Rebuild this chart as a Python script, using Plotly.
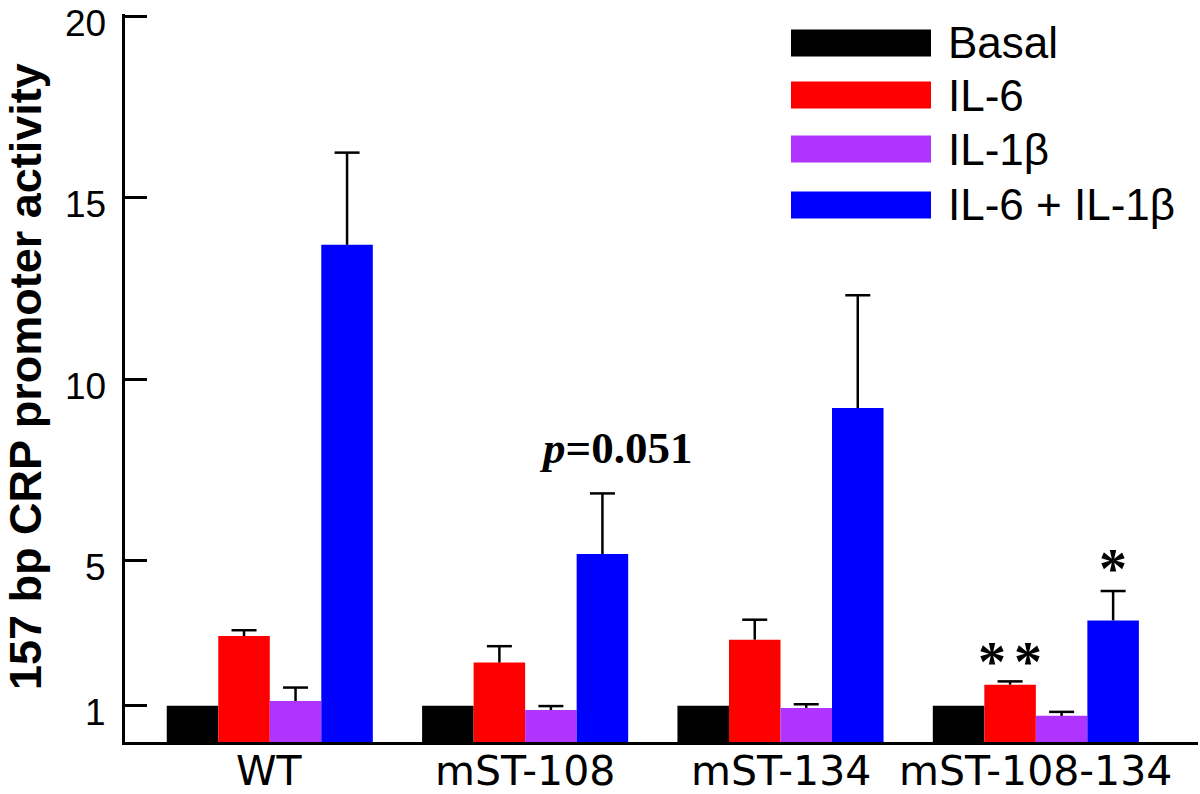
import plotly.graph_objects as go

categories = ["WT", "mST-108", "mST-134", "mST-108-134"]
series_names = ["Basal", "IL-6", "IL-1β", "IL-6 + IL-1β"]
series_colors = ["#000000", "#FF0000", "#B034FF", "#0000FF"]

basal = [1.0, 1.0, 1.0, 1.0]
il6 = [2.92, 2.19, 2.82, 1.58]
il6_err = [0.16, 0.45, 0.55, 0.09]
il1b = [1.13, 0.88, 0.94, 0.72]
il1b_err = [0.37, 0.11, 0.10, 0.11]
combo = [13.70, 5.18, 9.20, 3.35]
combo_err = [2.54, 1.67, 3.11, 0.81]

y_ticks = [1, 5, 10, 15, 20]

values = [basal, il6, il1b, combo]
errors = [None, il6_err, il1b_err, combo_err]

W, H = 1200, 794
L, R, T, B = 125, 2, 14, 52
PW, PH = W - L - R, H - T - B
BARGAP = 0.193
XR = [-0.567, 3.635]


def px(xp):
    return (xp - L) / PW


def py(yp):
    return (H - B - yp) / PH


xpos = list(range(len(categories)))
bw = (1 - BARGAP) / len(values)
cap_half = 12.5 * (XR[1] - XR[0]) / PW

fig = go.Figure()
for k, (name, col, vals) in enumerate(zip(series_names, series_colors, values)):
    fig.add_trace(go.Bar(x=xpos, y=vals, name=name, marker_color=col,
                         marker_line_width=0, showlegend=False))

for k, (vals, err) in enumerate(zip(values, errors)):
    if err is None:
        continue
    xs, ys = [], []
    for i, (v, e) in enumerate(zip(vals, err)):
        xc = i + (k - 1.5) * bw
        xs += [xc, xc, None, xc - cap_half, xc + cap_half, None]
        ys += [v, v + e, None, v + e, v + e, None]
    fig.add_trace(go.Scatter(x=xs, y=ys, mode="lines", showlegend=False,
                             line=dict(color="black", width=2.5), hoverinfo="skip"))

annotations = []
# y tick labels
for t in y_ticks:
    annotations.append(dict(x=px(108), y=t, xref="paper", yref="y", text=str(t),
                            showarrow=False, xanchor="right", yanchor="middle", yshift=-7,
                            font=dict(family="Liberation Sans", size=37, color="black")))
# category labels
for i, c in enumerate(categories):
    annotations.append(dict(x=i, y=py(771), xref="x", yref="paper", text=c,
                            showarrow=False, xanchor="center", yanchor="middle",
                            font=dict(family="DejaVu Sans", size=41, color="black")))
# p value
annotations.append(dict(x=1 + 1.5 * bw, y=combo[1] + combo_err[1] + 0.50, xref="x", yref="y",
                        text="<b><i>p</i>=0.051</b>", showarrow=False, yanchor="bottom", xshift=13,
                        font=dict(family="Liberation Serif", size=45, color="black")))
for dx in (-18, 18):
    annotations.append(dict(x=3 - 0.5 * bw, y=il6[3] + il6_err[3] - 0.37, xref="x", yref="y",
                            text="<b>*</b>", showarrow=False, yanchor="bottom", xshift=dx,
                            font=dict(family="Liberation Serif", size=56, color="black")))
annotations.append(dict(x=3 + 1.5 * bw, y=combo[3] + combo_err[3] - 0.30, xref="x", yref="y",
                        text="<b>*</b>", showarrow=False, yanchor="bottom",
                        font=dict(family="Liberation Serif", size=56, color="black")))
# y title
annotations.append(dict(x=px(25), y=py(377), xref="paper", yref="paper",
                        text="<b>157 bp CRP promoter activity</b>", textangle=-90,
                        showarrow=False, xanchor="center", yanchor="middle",
                        font=dict(family="Liberation Sans", size=45, color="black")))

shapes = []
leg_y = [43, 95, 149, 205]
for name, col, yc in zip(series_names, series_colors, leg_y):
    shapes.append(dict(type="rect", xref="paper", yref="paper",
                       x0=px(791), x1=px(931), y0=py(yc + 13.5), y1=py(yc - 13.5),
                       fillcolor=col, line=dict(width=0)))
    annotations.append(dict(x=px(946), y=py(yc), xref="paper", yref="paper", text=name,
                            showarrow=False, xanchor="left", yanchor="middle",
                            font=dict(family="Liberation Sans", size=44, color="black")))

fig.update_layout(
    width=W, height=H,
    margin=dict(l=L, r=R, t=T, b=B, autoexpand=False),
    paper_bgcolor="white", plot_bgcolor="white",
    barmode="group", bargap=BARGAP, bargroupgap=0,
    shapes=shapes, annotations=annotations,
    xaxis=dict(range=XR, type="linear", showline=True, linecolor="black", linewidth=2.5,
               ticks="", showgrid=False, zeroline=False, showticklabels=False,
               automargin=False),
    yaxis=dict(range=[0, 20.06], tickvals=y_ticks, showline=True, linecolor="black",
               linewidth=2.5, ticks="inside", ticklen=22, tickwidth=2.5, tickcolor="black",
               showgrid=False, zeroline=False, automargin=False, showticklabels=False),
)

fig.write_html("out.html", config={"displayModeBar": False},
               post_script="document.body.style.margin='0';document.body.style.overflow='hidden';")
